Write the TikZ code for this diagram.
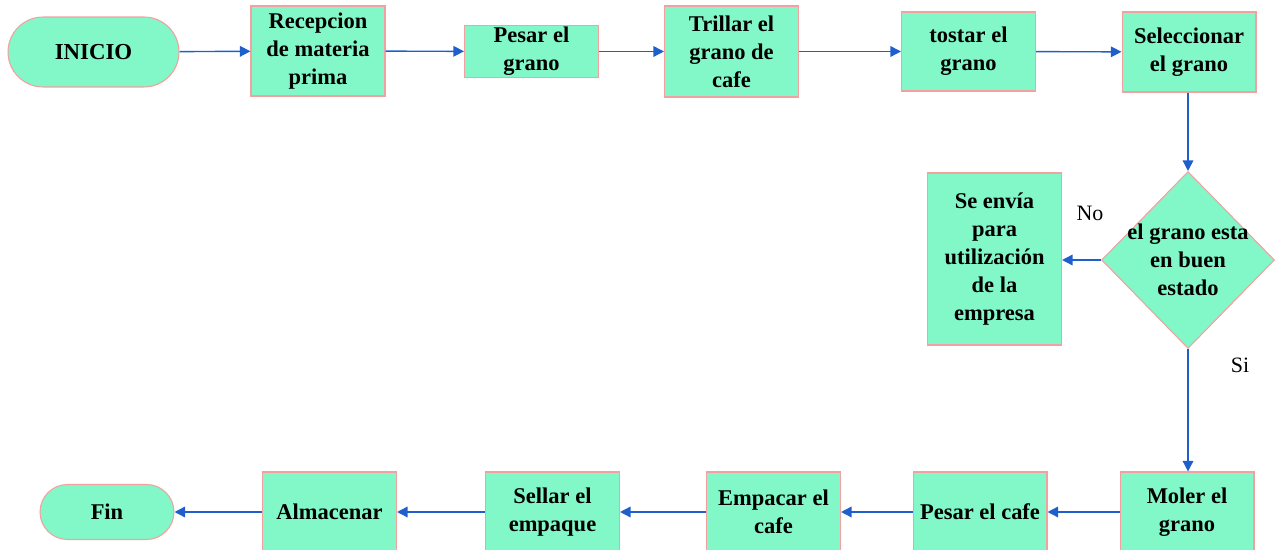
\documentclass[tikz,border=0pt]{standalone}
\usepackage{fontspec}
\setmainfont{Liberation Serif}
\usetikzlibrary{shapes.geometric,arrows.meta}
\definecolor{cajaverde}{HTML}{82F7C8}
\definecolor{bordecaja}{HTML}{F2A0A0}
\definecolor{flechaazul}{HTML}{1F5FCC}
\begin{document}
\begin{tikzpicture}[x=0.02cm,y=-0.02cm,
	paso/.style={draw=bordecaja,fill=cajaverde,line width=0.6pt,minimum width=2.68cm,
		align=center,font=\fontsize{12.8}{16}\selectfont\bfseries,inner sep=1pt},
	limite/.style={paso,rounded corners=0.7cm},
	decision/.style={draw=bordecaja,fill=cajaverde,line width=0.6pt,diamond,
		minimum width=3.46cm,minimum height=3.54cm,inner sep=0pt},
	flecha/.style={draw=flechaazul,line width=0.8pt,-{Triangle[length=6pt,width=6pt]}},
	etiqueta/.style={font=\fontsize{12.5}{14}\selectfont}]
\useasboundingbox (0,0) rectangle (1277,550);
\node[limite,minimum width=3.42cm,minimum height=1.4cm,font=\fontsize{13}{15}\selectfont\bfseries] (inicio) at (93.5,52) {INICIO};
\node[paso,minimum height=1.8cm] (recepcion) at (318,51) {Recepcion\\de materia\\prima};
\node[paso,minimum height=0.98cm] (pesargrano) at (531.5,51.5) {Pesar el\\grano};
\node[paso,minimum height=1.82cm] (trillar) at (731.5,51.5) {Trillar el\\grano de\\cafe};
\node[paso,minimum height=1.58cm] (tostar) at (968.5,51.5) {tostar el\\grano};
\node[paso,minimum height=1.6cm] (seleccionar) at (1189,52) {Seleccionar\\el grano};
\node[decision] (estado) at (1188,260) {};
\node[align=center,font=\fontsize{12.8}{16}\selectfont\bfseries,inner sep=0pt] (estadotexto) at (estado.center) {el grano esta\\en buen\\estado};
\node[paso,minimum height=3.44cm] (envia) at (994.5,259) {Se envía\\para\\utilización\\de la\\empresa};
\node[paso,minimum height=1.6cm] (moler) at (1187,512) {Moler el\\grano};
\node[paso,minimum height=1.6cm] (pesarcafe) at (980,512) {Pesar el cafe};
\node[paso,minimum height=1.6cm] (empacar) at (773.5,512) {Empacar el\\cafe};
\node[paso,minimum height=1.6cm] (sellar) at (552.5,512) {Sellar el\\empaque};
\node[paso,minimum height=1.6cm] (almacenar) at (329.5,512) {Almacenar};
\node[limite,minimum height=1.1cm,rounded corners=0.55cm] (fin) at (107,512) {Fin};
\node[etiqueta] (no) at (1090,213) {No};
\node[etiqueta] (si) at (1240,365) {Si};
\draw[flecha] (inicio) -- (recepcion);
\draw[flecha] (recepcion) -- (pesargrano);
\draw[flecha] (pesargrano) -- (trillar);
\draw[flecha] (trillar) -- (tostar);
\draw[flecha] (tostar) -- (seleccionar);
\draw[flecha] (seleccionar.south -| estado.north) -- (estado.north);
\draw[flecha] (estado.west) -- (envia.east |- estado.west);
\draw[flecha] (estado.south) -- (moler.north -| estado.south);
\draw[flecha] (moler) -- (pesarcafe);
\draw[flecha] (pesarcafe) -- (empacar);
\draw[flecha] (empacar) -- (sellar);
\draw[flecha] (sellar) -- (almacenar);
\draw[flecha] (almacenar) -- (fin);
\end{tikzpicture}
\end{document}
